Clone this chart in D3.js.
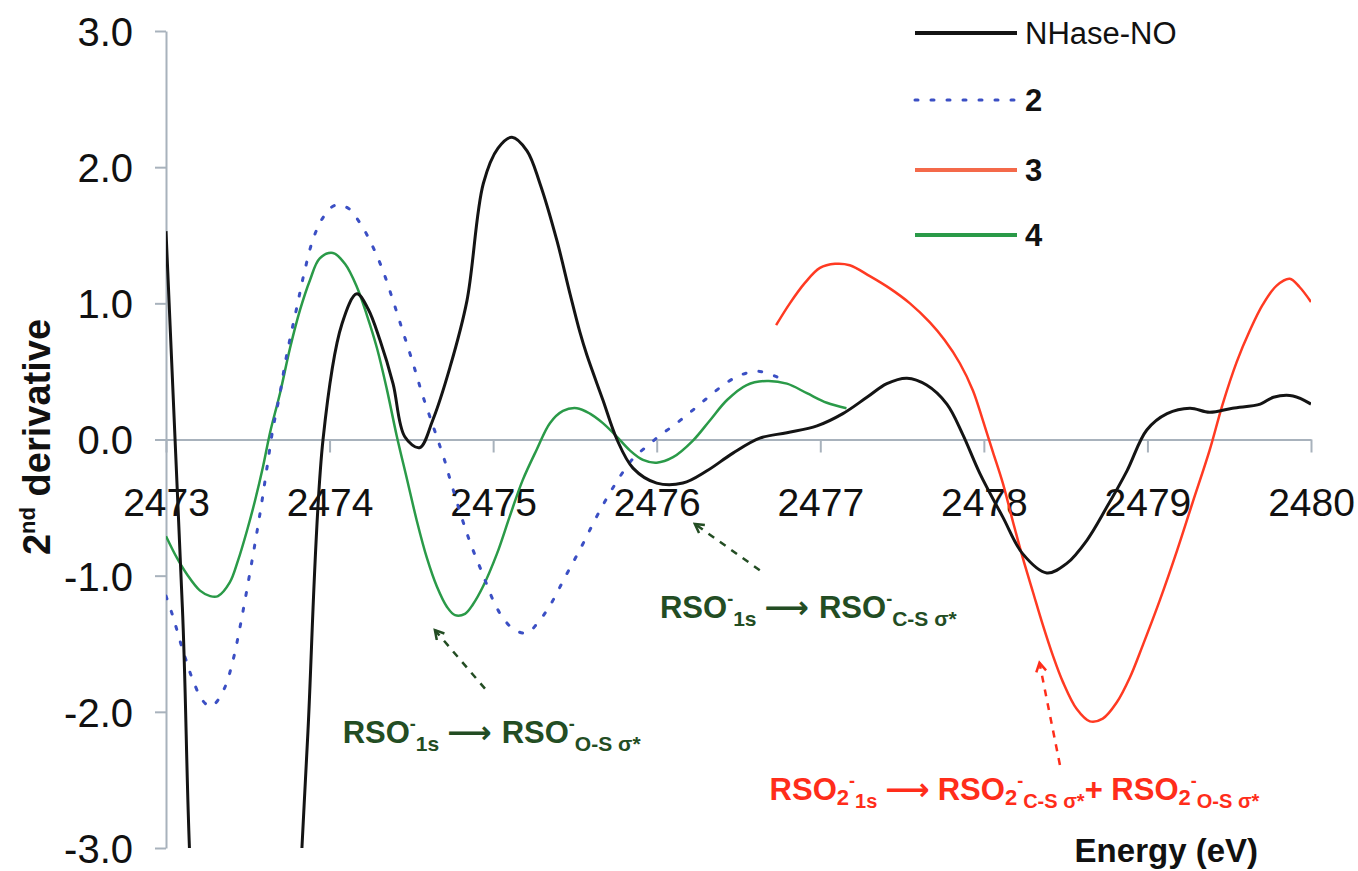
<!DOCTYPE html>
<html>
<head>
<meta charset="utf-8">
<script src="https://cdn.jsdelivr.net/npm/d3@7"></script>
<style>
  body { margin: 0; background: #fff; }
  text { font-family: "Liberation Sans", Arial, "DejaVu Sans", sans-serif; }
</style>
</head>
<body>
<div id="graph"></div>
<script>
// energies (eV) and 2nd derivative values
const nhaseE = [2473.0, 2473.1, 2473.2, 2473.5, 2473.79, 2473.831, 2473.868, 2473.96, 2474.076, 2474.167, 2474.235, 2474.308, 2474.388, 2474.46, 2474.55, 2474.63, 2474.736, 2474.84, 2474.94, 2475.03, 2475.115, 2475.207, 2475.286, 2475.39, 2475.47, 2475.53, 2475.573, 2475.671, 2475.757, 2475.855, 2476.0, 2476.16, 2476.307, 2476.466, 2476.63, 2476.796, 2476.98, 2477.138, 2477.285, 2477.407, 2477.53, 2477.65, 2477.774, 2477.87, 2477.976, 2478.116, 2478.238, 2478.385, 2478.507, 2478.63, 2478.75, 2478.875, 2478.996, 2479.12, 2479.26, 2479.38, 2479.52, 2479.69, 2479.77, 2479.89, 2480.0];
const nhaseV = [1.53, -1.23, -3.99, -6.0, -4.0, -3.0, -2.14, 0.0, 0.85, 1.07, 0.96, 0.73, 0.41, 0.02, -0.06, 0.14, 0.53, 1.02, 1.88, 2.14, 2.22, 2.12, 1.88, 1.46, 1.07, 0.79, 0.62, 0.29, 0.0, -0.21, -0.32, -0.32, -0.23, -0.10, 0.01, 0.05, 0.10, 0.19, 0.31, 0.41, 0.45, 0.40, 0.26, 0.04, -0.25, -0.57, -0.84, -0.98, -0.91, -0.74, -0.50, -0.23, 0.07, 0.19, 0.23, 0.20, 0.23, 0.26, 0.31, 0.32, 0.26];

const s2E = [2473.0, 2473.037, 2473.067, 2473.098, 2473.128, 2473.165, 2473.226, 2473.27, 2473.30, 2473.36, 2473.41, 2473.452, 2473.483, 2473.526, 2473.556, 2473.587, 2473.617, 2473.654, 2473.697, 2473.727, 2473.758, 2473.789, 2473.819, 2473.85, 2473.899, 2473.96, 2474.033, 2474.112, 2474.186, 2474.247, 2474.32, 2474.388, 2474.449, 2474.51, 2474.57, 2474.644, 2474.705, 2474.736, 2474.815, 2474.87, 2474.94, 2475.0, 2475.06, 2475.133, 2475.21, 2475.27, 2475.347, 2475.44, 2475.543, 2475.64, 2475.745, 2475.855, 2475.94, 2476.02, 2476.1, 2476.185, 2476.264, 2476.344, 2476.43, 2476.527, 2476.63, 2476.735];
const s2V = [-1.15, -1.28, -1.40, -1.53, -1.64, -1.77, -1.92, -1.96, -1.94, -1.82, -1.62, -1.38, -1.18, -0.89, -0.68, -0.45, -0.21, 0.08, 0.34, 0.55, 0.74, 0.91, 1.08, 1.25, 1.47, 1.63, 1.72, 1.70, 1.59, 1.46, 1.26, 1.02, 0.79, 0.56, 0.32, 0.06, -0.16, -0.29, -0.60, -0.79, -1.0, -1.18, -1.31, -1.40, -1.42, -1.35, -1.22, -1.01, -0.78, -0.55, -0.33, -0.14, -0.05, 0.03, 0.10, 0.18, 0.26, 0.34, 0.42, 0.48, 0.50, 0.46];

const s3E = [2476.73, 2476.814, 2476.906, 2476.998, 2477.09, 2477.18, 2477.303, 2477.425, 2477.548, 2477.67, 2477.76, 2477.853, 2477.933, 2477.994, 2478.055, 2478.116, 2478.177, 2478.238, 2478.30, 2478.36, 2478.42, 2478.483, 2478.568, 2478.648, 2478.727, 2478.813, 2478.892, 2478.972, 2479.076, 2479.18, 2479.277, 2479.38, 2479.46, 2479.546, 2479.626, 2479.705, 2479.79, 2479.87, 2479.93, 2480.0];
const s3V = [0.84, 1.0, 1.15, 1.26, 1.29, 1.28, 1.20, 1.11, 1.0, 0.86, 0.73, 0.56, 0.36, 0.14, -0.09, -0.32, -0.60, -0.87, -1.12, -1.36, -1.58, -1.78, -1.98, -2.07, -2.05, -1.93, -1.75, -1.51, -1.18, -0.82, -0.46, -0.08, 0.26, 0.57, 0.80, 0.99, 1.13, 1.18, 1.12, 1.01];

const s4E = [2473.0, 2473.067, 2473.128, 2473.208, 2473.27, 2473.318, 2473.39, 2473.44, 2473.495, 2473.544, 2473.593, 2473.636, 2473.697, 2473.758, 2473.819, 2473.88, 2473.94, 2474.02, 2474.094, 2474.167, 2474.229, 2474.29, 2474.35, 2474.41, 2474.473, 2474.534, 2474.595, 2474.656, 2474.718, 2474.767, 2474.828, 2474.877, 2474.938, 2475.023, 2475.10, 2475.18, 2475.268, 2475.347, 2475.427, 2475.512, 2475.592, 2475.671, 2475.757, 2475.836, 2475.916, 2476.0, 2476.1, 2476.22, 2476.325, 2476.43, 2476.55, 2476.674, 2476.796, 2476.918, 2477.04, 2477.16];
const s4V = [-0.71, -0.87, -0.99, -1.11, -1.15, -1.15, -1.05, -0.89, -0.67, -0.45, -0.20, 0.05, 0.34, 0.67, 0.95, 1.17, 1.33, 1.37, 1.29, 1.12, 0.91, 0.67, 0.37, 0.03, -0.29, -0.60, -0.87, -1.08, -1.23, -1.29, -1.28, -1.21, -1.08, -0.84, -0.57, -0.30, -0.07, 0.12, 0.21, 0.23, 0.19, 0.12, 0.02, -0.08, -0.15, -0.17, -0.13, -0.01, 0.14, 0.29, 0.40, 0.43, 0.41, 0.34, 0.27, 0.23];

const xTicks = [2473, 2474, 2475, 2476, 2477, 2478, 2479, 2480];
const yTicks = [-3, -2, -1, 0, 1, 2, 3];
const seriesNames = ["NHase-NO", "2", "3", "4"];

// Dimensions du graphique
const W = 1358, H = 871;
const svg = d3.select("#graph").append("svg").attr("width", W).attr("height", H);

const x = d3.scaleLinear().domain([2473, 2480]).range([166, 1311]);
const y = d3.scaleLinear().domain([-3, 3]).range([848, 31]);

const axisCol = "#a8b2bc";
const fmt = d => d3.format(".1f")(d).replace("\u2212", "-");

// Axe des Y
const gy = svg.append("g").attr("transform", "translate(" + x(2473) + ",0)")
  .call(d3.axisLeft(y).tickValues(yTicks).tickFormat(fmt).tickSize(11).tickSizeOuter(0).tickPadding(22));
gy.selectAll("path, line").attr("stroke", axisCol).attr("stroke-width", 2);
gy.selectAll("text").attr("font-size", 40).attr("fill", "#111").attr("dy", "0.36em")
  .attr("font-family", "'Liberation Sans', Arial, sans-serif");

// Axe des X (on y = 0)
const gx = svg.append("g").attr("transform", "translate(0," + y(0) + ")")
  .call(d3.axisBottom(x).tickValues(xTicks).tickFormat(d3.format("d")).tickSize(13).tickSizeOuter(0).tickPadding(36));
gx.selectAll("path, line").attr("stroke", axisCol).attr("stroke-width", 2);
gx.selectAll("text").attr("font-size", 39).attr("fill", "#111")
  .attr("font-family", "'Liberation Sans', Arial, sans-serif");

// clip lines to the plot area
svg.append("clipPath").attr("id", "plot")
  .append("rect").attr("x", x(2473)).attr("y", y(3)).attr("width", x(2480) - x(2473)).attr("height", y(-3) - y(3));

const line = d3.line().x(d => x(d[0])).y(d => y(d[1])).curve(d3.curveCatmullRom.alpha(0.5));
const zip = (a, b) => a.map((v, i) => [v, b[i]]);

const series = [
  { data: zip(nhaseE, nhaseV), color: "#141414", width: 3, dash: null },
  { data: zip(s2E, s2V), color: "#3b4fc4", width: 3, dash: "3,13" },
  { data: zip(s3E, s3V), color: "#ff3a22", width: 2.5, dash: null },
  { data: zip(s4E, s4V), color: "#2a9a48", width: 2.5, dash: null }
];

const plot = svg.append("g").attr("clip-path", "url(#plot)");
// draw order: green, blue, red, black
[3, 1, 2, 0].forEach(i => {
  const s = series[i];
  plot.append("path")
    .attr("fill", "none")
    .attr("stroke", s.color)
    .attr("stroke-width", s.width)
    .attr("stroke-linecap", s.dash ? "round" : "butt")
    .attr("stroke-dasharray", s.dash)
    .attr("d", line(s.data));
});

// Legende
const leg = svg.append("g");
const legY = [33, 100, 170, 235];
const legCols = ["#141414", "#3b4fc4", "#f4694a", "#2a9a48"];
seriesNames.forEach((n, i) => {
  leg.append("line")
    .attr("x1", 915).attr("x2", 1017).attr("y1", legY[i]).attr("y2", legY[i])
    .attr("stroke", legCols[i]).attr("stroke-width", i == 1 ? 3 : 4)
    .attr("stroke-dasharray", i == 1 ? "3,13" : null)
    .attr("stroke-linecap", i == 1 ? "round" : "butt");
  leg.append("text")
    .attr("x", 1025).attr("y", legY[i]).attr("dy", "0.36em")
    .attr("font-size", 31).attr("font-weight", i == 0 ? "normal" : "bold")
    .attr("fill", "#111").text(n);
});

// Titres des axes
const yt = svg.append("text").attr("transform", "translate(50,437) rotate(-90)")
  .attr("text-anchor", "middle").attr("font-weight", "bold").attr("fill", "#111").attr("font-size", 38);
yt.append("tspan").text("2");
yt.append("tspan").attr("font-size", 22).attr("dy", -15).text("nd");
yt.append("tspan").attr("dy", 15).text(" derivative");

svg.append("text").attr("x", 1258).attr("y", 862).attr("text-anchor", "end")
  .attr("font-weight", "bold").attr("font-size", 33).attr("fill", "#111").text("Energy (eV)");

// annotations
function richText(px, py, parts, color, size) {
  const t = svg.append("text").attr("x", px).attr("y", py)
    .attr("fill", color).attr("font-weight", "bold").attr("font-size", size);
  let cur = 0;
  parts.forEach(p => {
    const sh = p.s || 0;
    const ts = t.append("tspan").attr("dy", sh - cur).text(p.t);
    if (p.f) ts.attr("font-size", p.f);
    if (p.dx) ts.attr("dx", p.dx);
    if (p.ff) ts.attr("font-family", p.ff);
    cur = sh;
  });
}
const arrowFont = "'DejaVu Sans', sans-serif";

function dashArrow(e0, v0, e1, v1, color, id) {
  svg.append("marker").attr("id", id).attr("viewBox", "0 0 10 10").attr("refX", 8).attr("refY", 5)
    .attr("markerWidth", 5).attr("markerHeight", 5).attr("orient", "auto-start-reverse")
    .append("path").attr("d", "M1,1 L8,5 L1,9").attr("fill", "none").attr("stroke", color).attr("stroke-width", 2);
  svg.append("line")
    .attr("x1", x(e0)).attr("y1", y(v0)).attr("x2", x(e1)).attr("y2", y(v1))
    .attr("stroke", color).attr("stroke-width", 2.5).attr("stroke-dasharray", "7,7")
    .attr("marker-end", "url(#" + id + ")");
}

const dkGreen = "#234d23", red = "#ff2d1a";
dashArrow(2474.95, -1.83, 2474.644, -1.40, dkGreen, "a1");
dashArrow(2476.63, -0.96, 2476.233, -0.62, dkGreen, "a2");
dashArrow(2478.465, -2.39, 2478.34, -1.64, red, "a3");

richText(x(2474.08), y(-2.23), [
  { t: "RSO" }, { t: "-", f: 18, s: -13 }, { t: "1s", f: 21, s: 8 },
  { t: "\u27F6", ff: arrowFont, s: 0, dx: 8 }, { t: "RSO", dx: 10 }, { t: "-", f: 18, s: -13 }, { t: "O-S \u03C3*", f: 21, s: 8 }
], dkGreen, 31);

richText(x(2476.02), y(-1.31), [
  { t: "RSO" }, { t: "-", f: 18, s: -13 }, { t: "1s", f: 21, s: 8 },
  { t: "\u27F6", ff: arrowFont, s: 0, dx: 8 }, { t: "RSO", dx: 10 }, { t: "-", f: 18, s: -13 }, { t: "C-S \u03C3*", f: 21, s: 8 }
], dkGreen, 31);

richText(x(2476.69), y(-2.65), [
  { t: "RSO" }, { t: "2", f: 22, s: 5 }, { t: "-", f: 18, s: -13 }, { t: "1s", f: 20, s: 8 },
  { t: "\u27F6", ff: arrowFont, s: 0, dx: 8 }, { t: "RSO", dx: 8 }, { t: "2", f: 22, s: 5 }, { t: "-", f: 18, s: -13 },
  { t: "C-S \u03C3*", f: 20, s: 8 }, { t: "+", s: 0 }, { t: " RSO" }, { t: "2", f: 22, s: 5 }, { t: "-", f: 18, s: -13 },
  { t: "O-S \u03C3*", f: 20, s: 8 }
], red, 31);
</script>
</body>
</html>
